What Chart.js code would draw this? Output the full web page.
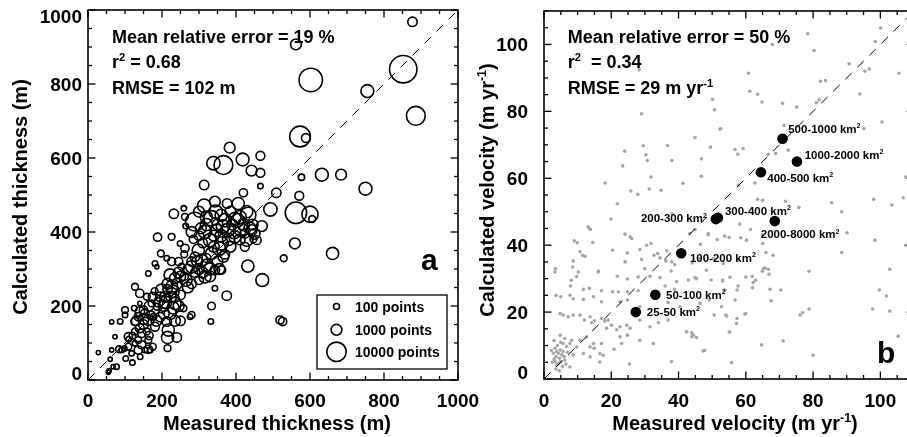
<!DOCTYPE html>
<html><head><meta charset="utf-8">
<script src="https://cdn.jsdelivr.net/npm/chart.js@4"></script>
<style>
html,body{margin:0;padding:0;background:#fff;overflow:hidden;width:907px;height:437px;}
canvas{position:absolute;left:0;top:0;}
</style></head><body>
<canvas id="ca" width="917" height="437"></canvas>
<canvas id="cb" width="917" height="437"></canvas>
<script>
// ---------------- DATA ----------------
// Panel a: [measured thickness (m), calculated thickness (m), number of points]
const thicknessCircles = [
[877,968,580],[562,907,1000],[602,811,21000],[852,840,38500],[755,781,2000],[886,714,8800],[573,658,13000],[589,654,450],[632,555,2000],[684,555,1000],[750,517,2000],[577,548,120],[571,498,450],[562,452,14600],[600,448,4900],[606,435,160],[559,369,1000],[661,342,1600],[529,329,160],[519,162,340],[526,158,340],[471,270,2000],[432,308,1600],[493,461,2300],[509,506,580],[470,416,1000],[466,606,450],[466,560,450],[466,524,70],[442,566,1000],[418,596,1950],[420,506,340],[383,628,1000],[366,581,8800],[339,586,2300],[314,527,580],
[232,449,580],[259,464,70],[314,471,2300],[343,482,1000],[376,477,580],[406,477,1600],[429,455,1600],[289,428,8800],[334,437,4000],[370,432,2300],[397,437,1600],[262,441,160],[264,416,70],[316,401,2300],[348,405,1600],[377,405,2300],[415,405,2300],[438,410,1600],[456,378,450],[429,378,1600],[188,386,340],[226,387,160],[249,369,70],[262,356,340],[298,351,1600],[330,378,2300],[361,369,2300],[334,342,1600],[366,333,1000],[307,324,1600],[280,306,1600],[289,333,580],[253,306,160],[226,320,340],[213,329,70],[197,342,160],[181,315,70],[186,306,25],[163,288,70],[222,284,1600],[249,279,1000],[316,279,1600],[343,297,580],[361,297,340],[343,248,70],[375,228,580],[334,200,250],[332,158,70],[280,176,160],[276,171,70],[258,194,160],[235,207,1600],[199,243,1600],[226,252,1600],[235,221,340],[208,225,1000],[222,180,1600],[213,158,580],[217,135,1600],[240,115,580],[215,86,160],[186,198,160],[177,171,160],[181,144,450],[163,162,1000],[154,180,450],[136,171,340],[159,225,160],[140,234,340],[127,252,160],[172,207,160],[140,207,25],[125,194,70],[150,189,340],[127,158,340],[127,131,160],[145,126,340],[159,131,160],[163,108,160],[163,83,340],[154,81,70],[168,81,70],[136,108,160],[127,99,70],[109,90,160],[118,72,70],[141,63,70],[109,117,340],[100,189,160],[100,176,70],[87,158,70],[64,157,25],[84,83,160],[91,81,70],[98,85,70],[64,81,25],[73,117,25],[102,58,70],[120,47,70],[77,36,70],[68,36,25],[60,56,25],[57,25,25],[55,21,25],[28,74,25],[136,81,340],
[404,432,2300],[433,446,4000],[442,405,1000],[397,387,1600],[424,396,580],[447,380,160],[424,360,450],
[300,300,1000],[320,310,1600],[350,320,1000],[370,340,580],[340,360,1000],[310,370,580],[290,290,580],[330,280,1000],[355,355,2300],[380,380,1600],[390,420,1000],[350,420,1000],[300,390,580],[285,380,340],[270,300,580],[260,280,340],[240,260,1000],[230,240,1600],[215,245,580],[205,200,1000],[230,195,1600],[250,230,580],[195,170,580],[185,160,1000],[170,175,450],[150,150,580],[140,140,450],[165,120,340],[145,95,340],[175,90,160],[120,120,160],[110,110,70],[270,250,1000],[280,260,580],[300,270,450],[320,330,450],[260,340,160],[245,320,340],[280,320,580],[180,240,160],[190,210,580],[205,180,1000],
[320,440,1600],[300,455,1000],[345,455,2300],[360,445,1600],[385,455,1000],[410,440,2300],[395,400,2300],[360,390,1600],[340,390,1000],[320,420,1600],[305,410,1000],[280,400,1000],[365,415,2300],[420,420,1600],[445,420,1000],[450,395,1000],[410,380,1000],[385,360,1000],[355,300,1000],[330,300,1600],[310,290,1000],[295,320,1000],[265,270,1600],[245,290,1000],[235,275,1000],[215,260,1000],[225,225,1000],[245,200,1000],[210,210,1600],[195,225,580],[175,225,450],[165,200,580],[150,165,1000],[130,160,580],[140,185,580],[215,115,1600],[235,160,1000],[250,160,580]
];
const legendCounts = [100, 1000, 10000];
const legendLabels = ['100 points', '1000 points', '10000 points'];

// Panel b: individual glaciers [measured velocity, calculated velocity] (m/yr)
const velocityPoints = [
[78.4,103.2],[67.9,100],[80.3,98.2],[100.1,104.9],[98.5,100.9],[105.5,91.4],[90.7,94.2],[95.4,92],[96.7,92.7],[60.8,91.4],[82.2,89],[83.7,89.2],[61.2,86],[63.5,85.1],[64.8,82.8],[70.9,82.4],[75.1,81.3],[81.8,83.5],[81,82.6],[93.9,85.2],[100.5,76.8],[95.1,74.8],[71.4,75.8],[52.6,74.8],[56.8,68.6],[59.2,68.9],[57.6,67.2],[66.7,67.2],[68.9,67.4],[72.6,68.4],[107.6,60.4],[57.8,57.9],[62.7,58.6],[63.5,53.7],[65,53.4],[71.8,53.1],[75.8,51.3],[85.5,52.7],[88.5,50],[98,53.7],[103.4,52],[106.8,54.2],
[90.1,43.7],[98.4,41.5],[88.5,37.8],[107.5,40],[102.8,32.8],[78.8,32.2],[99.7,26.6],[101.8,24.8],[97.7,20.9],[102.8,20.3],[78.8,20.9],[76.9,19.8],[76.1,19.1],[105.3,12.8],[71.1,11.4],[64.7,10.2],[80,7.1],[55.8,4.9],[65,40.5],[68.1,37],[66,37.8],[61.4,44.7],[58.5,42.2],[60.2,41.5],[53.7,42.7],[64.9,32.2],[65.7,33.2],[66.7,32.8],[66.9,31.3],[61.9,30.7],[62.9,29.5],[55.3,30.4],[53.1,29.3],[67.2,26.8],[70.4,26.6],[62,27.3],[57.7,27.8],[57.4,26.6],[53.8,26.6],[67.5,23.4],[56.8,23.6],[59.7,19.4],[57.4,18.1],[57.2,16.6],[54.3,18.8],[55.1,14],[64.9,43.1],[58.2,46.3],
[21.8,52.4],[19.9,47.8],[13.5,45],[13.1,45.5],[13.8,44.7],[24.1,43.3],[25.6,42.5],[26.1,42],[9,41.3],[9.9,40.7],[14.5,40.8],[20.4,38.5],[24.8,37.7],[24.1,35],[10.7,38],[11.5,37],[12.2,36.7],[28.5,38.7],[31.8,40.5],[30.5,40],[33.8,37.5],[36.5,38.3],[38,35],[29,35.7],[3.4,33],[3.3,32],[8.7,35.3],[8.5,33.5],[10.2,32],[9.7,30.6],[16.2,32.3],[21.8,30.7],[24.8,29.9],[28,30.5],[31.5,30.7],[34.5,30.3],[37.8,32.3],[39.4,29.1],[42.9,29.6],[44.9,30.3],[49.7,29.6],[53.1,29.6],[7.9,27.8],[11.7,26.8],[13.5,27.1],[17.1,26.4],[20.4,26.1],[22.1,26.1],[24.8,26.1],[28,26.4],[36,27.8],[38.8,26.8],[3.6,25],[5,24.6],[7.7,25],[8.7,24],[11.7,23.8],[14.7,24.6],[17.1,23.1],[22.6,23.1],[24.8,23.6],[28.5,21.6],[36.9,22.9],[40.4,21.6],[46.4,22.6],[49.1,23.6],[52.8,21.6],[4.8,19.6],[5.7,19.1],[7.2,18.6],[8.7,19.1],[10.7,19.1],[12,17.6],[13.7,18.6],[14.2,16.8],[15,17.4],[17.1,18.1],[18.1,17.3],[19.1,17.6],[20.1,16.1],[18.6,15.2],[22.6,15.6],[24.6,16.1],[25.6,15.2],[21.6,14.7],[28.5,17.6],[31.5,15.6],[34,16.8],[36.9,17.6],[42.4,14.1],[43.9,13.8],[44.4,13.1],[47.3,8.4],[37.9,5.2],[25.4,4.5],[32.5,10.6],[28.5,11.6],[24.8,13.1],[22.6,12.6],[23.1,10.6],[20.8,8.9],[17.1,10.6],[16.6,7.6],[17.6,7.1],[14.7,10.6],[14.9,9.2],[12.7,12.6],[13.7,9.6],[11.7,7.6],[13.7,6.6],[9.7,9.6],[8.2,11.6],[10.7,11.6],[16.6,5.1],[7.7,3.6],[6.2,12.1],[4.8,13.1],[5.7,10.6],
[3.3,9.2],[3.8,8.2],[4.3,7.7],[3.6,6.7],[4.6,6.2],[5.3,7.2],[6,6.7],[3.3,5.2],[4.3,4.7],[5,5.2],[3.8,4.2],[5.7,8.2],[2.8,7.7],[4.8,8.7],[6.2,5.7],[5.5,3.7],[6.7,9.7],[7.7,10.6],[8.7,7.2],[3,6],[4,10],[2.5,5],[3.5,3],[4.5,2.5],[6.5,4.5],[2.2,8.5],[7,8],[5,11],[3,11.5],
[28.3,92.4],[50.1,83.6],[50.7,80.5],[52.3,74.7],[29,79.3],[44.9,72.2],[49.5,69.3],[29.5,69.7],[36.7,69.8],[24,68.1],[30.3,67],[30.7,65.3],[38,65.3],[46.8,65.8],[23.4,63.7],[31.8,60.4],[46.8,60.6],[18.2,58.6],[41.3,58.5],[25.8,56.2],[27.9,55.2],[31.3,56.8],[34.8,56.4],[38.1,49.4],
[44.9,44.7],[43.4,43.5],[48.8,43.5],[51.5,41.7],[55,42.3],[50.3,36],[46.3,36],[48.3,32.5],[45.3,30],[53.3,34.5],[57.7,35.5],[60,30.5],[62.2,28.8],[65.3,33],[55.2,14.1],[54,19.1],[60,19.6],[50.6,19.1],[47.8,8.5],[43.9,12.6],[45.3,12.4],[46.5,40.3],[48.8,43.1],[32.7,37],[34.5,36.2],[36.2,35.3],[38.9,34.2],[44.1,34.7],[29.9,33],[16.1,32],[8.1,29.5]
];
// Panel b: area-class means
const areaClasses = ['25-50','50-100','100-200','200-300','300-400','400-500','500-1000','1000-2000','2000-8000'];
const classMeasured = [27.3,33.1,40.8,51.1,51.7,64.5,70.9,75.2,68.6];
const classCalculated = [20.0,25.2,37.6,47.8,48.2,61.8,71.8,65.0,47.2];

// Axis ticks
const thickMajorTicks = [0,200,400,600,800,1000];
const thickMinorTicks = [0,50,100,150,200,250,300,350,400,450,500,550,600,650,700,750,800,850,900,950,1000];
const velMajorTicks = [0,20,40,60,80,100];
const velMinorTicks = [0,5,10,15,20,25,30,35,40,45,50,55,60,65,70,75,80,85,90,95,100,105,110];
const oneToOneA = [0,1000];
const oneToOneB = [0,110];

// ---------------- STYLE / HELPERS ----------------
const FAM = '"Liberation Sans", Arial, Helvetica, sans-serif';
const font = s => `bold ${s}px ${FAM}`;
const countRadius = n => 3 * Math.pow(n / 100, 0.255);
// label placement next to class dots: [dx, dy, align]
const classLabelPlace = [[11,0,'l'],[10.7,0,'l'],[8.7,4.3,'l'],[-9,-0.7,'r'],[7,-7,'l'],[6.3,5.7,'l'],[5.7,-10,'l'],[7.7,-6.3,'l'],[-14,13.3,'l']];

function richWidth(ctx, segs, sz){
  let w=0; for(const s of segs){ ctx.font=font(s.sup?sz*0.62:sz); w+=ctx.measureText(s.t).width; } return w;
}
function drawRich(ctx, segs, x, y, sz, align){
  const w = richWidth(ctx, segs, sz);
  let cx = align==='center' ? x-w/2 : (align==='right' ? x-w : x);
  ctx.textAlign='left'; ctx.textBaseline='alphabetic'; ctx.fillStyle='#000';
  for(const s of segs){
    const fs = s.sup ? sz*0.62 : sz;
    ctx.font = font(fs);
    ctx.fillText(s.t, cx, s.sup ? y - sz*0.42 : y);
    cx += ctx.measureText(s.t).width;
  }
}
function line(ctx,x1,y1,x2,y2){ctx.beginPath();ctx.moveTo(x1,y1);ctx.lineTo(x2,y2);ctx.stroke();}

function drawAxes(chart, o){
  const {ctx, chartArea:{left,right,top,bottom}, scales:{x,y}} = chart;
  ctx.save();
  ctx.strokeStyle='#000'; ctx.lineWidth=1.3;
  for(const v of o.minor){
    const px=x.getPixelForValue(v), py=y.getPixelForValue(v);
    const L = o.major.includes(v) ? 7.5 : 4;
    line(ctx,px,bottom,px,bottom-L); line(ctx,px,top,px,top+L);
    line(ctx,left,py,left+L,py); line(ctx,right,py,right-L,py);
  }
  ctx.lineWidth=1.6;
  ctx.strokeRect(left,top,right-left,bottom-top);
  // tick labels
  ctx.fillStyle='#000'; ctx.font=font(19);
  ctx.textBaseline='alphabetic';
  ctx.textAlign='center';
  for(const v of o.major){
    const px=x.getPixelForValue(v);
    ctx.fillText(String(v), px, 406.8);
  }
  ctx.textAlign='right';
  for(const v of o.major){
    let py=y.getPixelForValue(v);
    py=Math.min(Math.max(py, top+6.3), bottom-7);
    ctx.fillText(String(v), left-o.labelGap, py+6.8);
  }
  // axis titles
  drawRich(ctx, o.xTitle, o.xTitleX, 430, 20, 'center');
  ctx.save(); ctx.translate(o.yTitleX, o.yTitleY); ctx.rotate(-Math.PI/2);
  drawRich(ctx, o.yTitle, 0, 0, 20, 'center'); ctx.restore();
  // statistics
  o.stats.forEach((segs,i)=>drawRich(ctx, segs, o.statsX, [42.7,68.3,94.3][i], 18, 'left'));
  // panel letter
  ctx.font=font(30); ctx.textAlign='left'; ctx.fillText(o.letter, o.letterX, o.letterY);
  ctx.restore();
}

function baseOptions(xmax, ymax, pad, yw, xh){
  return {
    responsive:false, animation:false, events:[],
    layout:{autoPadding:false, padding:pad},
    plugins:{legend:{display:false}, tooltip:{enabled:false}},
    scales:{
      x:{type:'linear', min:0, max:xmax, grid:{display:false, drawTicks:false}, border:{display:false},
         ticks:{display:false}, afterFit:s=>{s.height=xh;}},
      y:{type:'linear', min:0, max:ymax, grid:{display:false, drawTicks:false}, border:{display:false},
         ticks:{display:false}, afterFit:s=>{s.width=yw;}}
    }
  };
}

// ---------------- PANEL A ----------------
const panelA = {
  id:'panelA',
  afterDraw(chart){
    drawAxes(chart, {
      major:thickMajorTicks, minor:thickMinorTicks, labelGap:6,
      xTitle:[{t:'Measured thickness (m)'}], xTitleX:277,
      yTitle:[{t:'Calculated thickness (m)'}], yTitleX:27, yTitleY:197,
      stats:[[{t:'Mean relative error = 19 %'}],[{t:'r'},{t:'2',sup:true},{t:' = 0.68'}],[{t:'RMSE = 102 m'}]],
      statsX:112, letter:'a', letterX:421, letterY:270
    });
    const ctx=chart.ctx; ctx.save();
    ctx.strokeStyle='#000'; ctx.lineWidth=1.3;
    ctx.strokeRect(317,295,130,74);
    const ys=[306.5,329.8,351.8];
    legendCounts.forEach((n,i)=>{
      ctx.lineWidth=1.6; ctx.beginPath(); ctx.arc(336.5, ys[i], countRadius(n), 0, Math.PI*2); ctx.stroke();
      ctx.fillStyle='#000'; ctx.font=font(14); ctx.textAlign='left'; ctx.textBaseline='alphabetic';
      ctx.fillText(legendLabels[i], 355, ys[i]+5);
    });
    ctx.restore();
  }
};
new Chart(document.getElementById('ca'), {
  type:'scatter',
  data:{datasets:[
    {data:thicknessCircles.map(p=>({x:p[0], y:p[1]})),
     pointRadius:c=>countRadius(thicknessCircles[c.dataIndex][2]),
     pointBorderColor:'#000', pointBackgroundColor:'rgba(0,0,0,0)', pointBorderWidth:1.6, order:0},
    {data:oneToOneA.map(v=>({x:v,y:v})), showLine:true, borderColor:'#000', borderWidth:1,
     borderDash:[9,8], pointRadius:0, order:1}
  ]},
  options:baseOptions(1000,1000,{left:0,top:10,right:917-458,bottom:0},88,57),
  plugins:[panelA]
});

// ---------------- PANEL B ----------------
const panelB = {
  id:'panelB',
  afterDraw(chart){
    drawAxes(chart, {
      major:velMajorTicks, minor:velMinorTicks, labelGap:16,
      xTitle:[{t:'Measured velocity (m yr'},{t:'-1',sup:true},{t:')'}], xTitleX:735,
      yTitle:[{t:'Calculated velocity (m yr'},{t:'-1',sup:true},{t:')'}], yTitleX:494, yTitleY:190,
      stats:[[{t:'Mean relative error = 50 %'}],[{t:'r'},{t:'2',sup:true},{t:'  = 0.34'}],[{t:'RMSE = 29 m yr'},{t:'-1',sup:true}]],
      statsX:567.7, letter:'b', letterX:877, letterY:362.5
    });
    const {ctx, scales:{x,y}} = chart; ctx.save();
    areaClasses.forEach((c,i)=>{
      const px=x.getPixelForValue(classMeasured[i]), py=y.getPixelForValue(classCalculated[i]);
      const [dx,dy,al]=classLabelPlace[i];
      drawRich(ctx,[{t:c+' km'},{t:'2',sup:true}], px+dx, py+dy+4, 11.5, al==='r'?'right':'left');
    });
    ctx.restore();
  }
};
new Chart(document.getElementById('cb'), {
  type:'scatter',
  data:{datasets:[
    {data:areaClasses.map((c,i)=>({x:classMeasured[i], y:classCalculated[i]})),
     pointRadius:5.3, pointBackgroundColor:'#000', pointBorderColor:'#000', pointBorderWidth:0, order:0},
    {data:oneToOneB.map(v=>({x:v,y:v})), showLine:true, borderColor:'#000', borderWidth:1,
     borderDash:[9,8], pointRadius:0, order:1},
    {data:velocityPoints.map(p=>({x:p[0], y:p[1]})),
     pointRadius:1.8, pointBackgroundColor:'#a8a8a8', pointBorderWidth:0, order:2}
  ]},
  options:baseOptions(110,110,{left:462,top:11,right:3,bottom:0},82,58),
  plugins:[panelB]
});
</script>
</body></html>
